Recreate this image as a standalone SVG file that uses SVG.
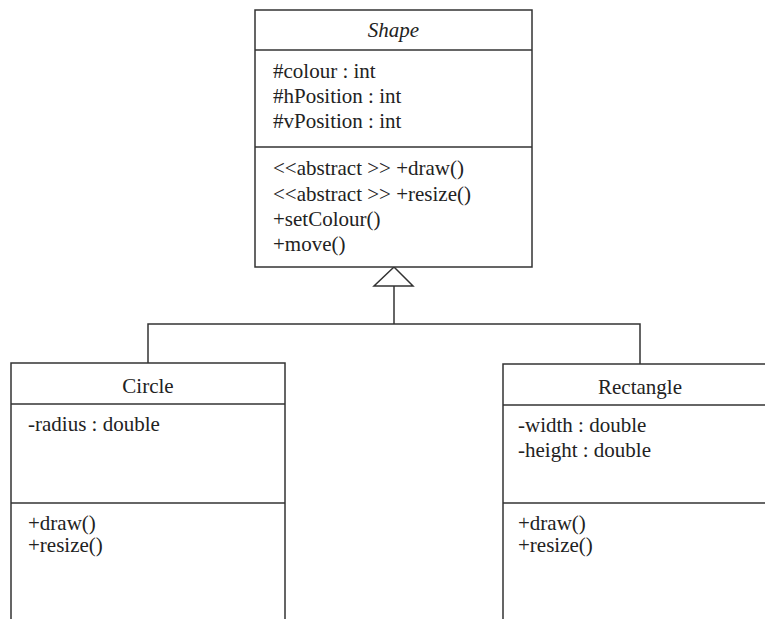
<svg xmlns="http://www.w3.org/2000/svg" width="765" height="619" viewBox="0 0 765 619">
<style>
.box{fill:#fff;stroke:#333;stroke-width:1.5}
.ln{stroke:#333;stroke-width:1.5;fill:none}
text{font-family:"Liberation Serif","Times New Roman",serif;font-size:21px;fill:#222}
.c{text-anchor:middle}
.i{font-style:italic}
</style>
<rect width="765" height="619" fill="#fff"/>
<g id="connectors">
<polyline class="ln" points="148,363 148,324 640,324 640,364"/>
<line class="ln" x1="394" y1="324" x2="394" y2="286"/>
<polygon class="box" points="394,267 374,286 413,286"/>
</g>
<g id="Shape">
<rect class="box" x="255" y="10" width="277" height="257"/>
<line class="ln" x1="255" y1="50" x2="532" y2="50"/>
<line class="ln" x1="255" y1="147" x2="532" y2="147"/>
<text class="c i" x="393.5" y="37">Shape</text>
<text x="273" y="78">#colour : int</text>
<text x="273" y="103">#hPosition : int</text>
<text x="273" y="128">#vPosition : int</text>
<text x="273" y="175">&lt;&lt;abstract &gt;&gt; +draw()</text>
<text x="273" y="201">&lt;&lt;abstract &gt;&gt; +resize()</text>
<text x="273" y="226">+setColour()</text>
<text x="273" y="251">+move()</text>
</g>
<g id="Circle">
<rect class="box" x="11" y="363" width="274" height="280"/>
<line class="ln" x1="11" y1="404" x2="285" y2="404"/>
<line class="ln" x1="11" y1="503" x2="285" y2="503"/>
<text class="c" x="148" y="393">Circle</text>
<text x="28" y="431">-radius : double</text>
<text x="28" y="530">+draw()</text>
<text x="28" y="552">+resize()</text>
</g>
<g id="Rectangle">
<rect class="box" x="503" y="364" width="274" height="280"/>
<line class="ln" x1="503" y1="405" x2="777" y2="405"/>
<line class="ln" x1="503" y1="503" x2="777" y2="503"/>
<text class="c" x="640" y="394">Rectangle</text>
<text x="518" y="432">-width : double</text>
<text x="518" y="457">-height : double</text>
<text x="518" y="530">+draw()</text>
<text x="518" y="552">+resize()</text>
</g>
</svg>
